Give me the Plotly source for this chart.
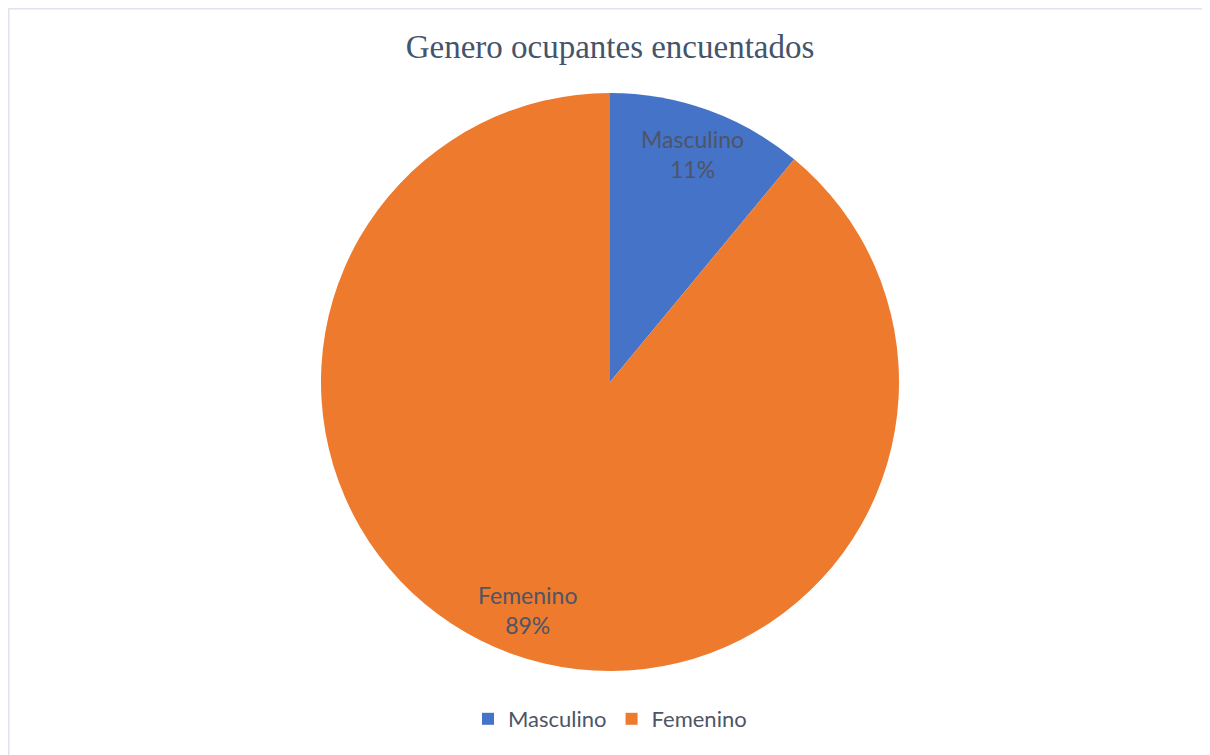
import math
import plotly.graph_objects as go

labels = ['Masculino', 'Femenino']
values = [11, 89]
colors = ['#4573C8', '#EE7A2E']

# page body has an 8px margin, so the figure is a bit smaller and shifted
OFF = 8
W, H = 1210 - OFF, 755 - OFF
cx, cy, r = 610 - OFF, 382 - OFF, 289  # pie centre / radius in px
half = min(cx, W - cx)

fig = go.Figure()
fig.add_trace(go.Pie(
    labels=labels,
    values=values,
    sort=False,
    direction='clockwise',
    rotation=0,
    textinfo='none',
    hoverinfo='label+percent',
    marker=dict(colors=colors, line=dict(width=0)),
    domain=dict(x=[(cx - half) / W, (cx + half) / W], y=[1 - (cy + r) / H, 1 - (cy - r) / H]),
))

# data labels like excel: name + percent at ~0.84 of the radius, mid-angle
total = sum(values)
start = 0
for lab, v in zip(labels, values):
    mid = (start + v / 2) / total * 2 * math.pi
    start += v
    px = cx + 0.84 * r * math.sin(mid)
    py = cy - 0.84 * r * math.cos(mid)
    fig.add_annotation(
        x=px / W, y=1 - py / H, xref='paper', yref='paper',
        xanchor='center', yanchor='middle',
        text=lab + '<br>' + str(round(v / total * 100)) + '%',
        showarrow=False,
        font=dict(family='Lato, Open Sans, sans-serif', size=23, color='#4d5566'),
        align='center',
    )

fig.update_layout(
    width=W, height=H,
    margin=dict(l=0, r=0, t=0, b=0),
    paper_bgcolor='white',
    title=dict(text='Genero ocupantes encuentados', x=cx / W, xanchor='center',
               y=1 - (46 - OFF) / H, yanchor='middle',
               font=dict(family='Liberation Serif, Times New Roman, serif', size=33, color='#44546A')),
    showlegend=True,
    legend=dict(orientation='h', x=cx / W, xanchor='center', y=1 - (719 - OFF) / H, yanchor='middle',
                font=dict(family='Lato, Open Sans, sans-serif', size=22, color='#4d5566'),
                itemwidth=30, traceorder='normal'),
)

fig.add_shape(type='rect', xref='paper', yref='paper',
              x0=0, x1=1.03, y0=-0.03, y1=1,
              line=dict(color='#dfe3ec', width=3), fillcolor='rgba(0,0,0,0)', layer='below')

fig.write_html('out.html')
